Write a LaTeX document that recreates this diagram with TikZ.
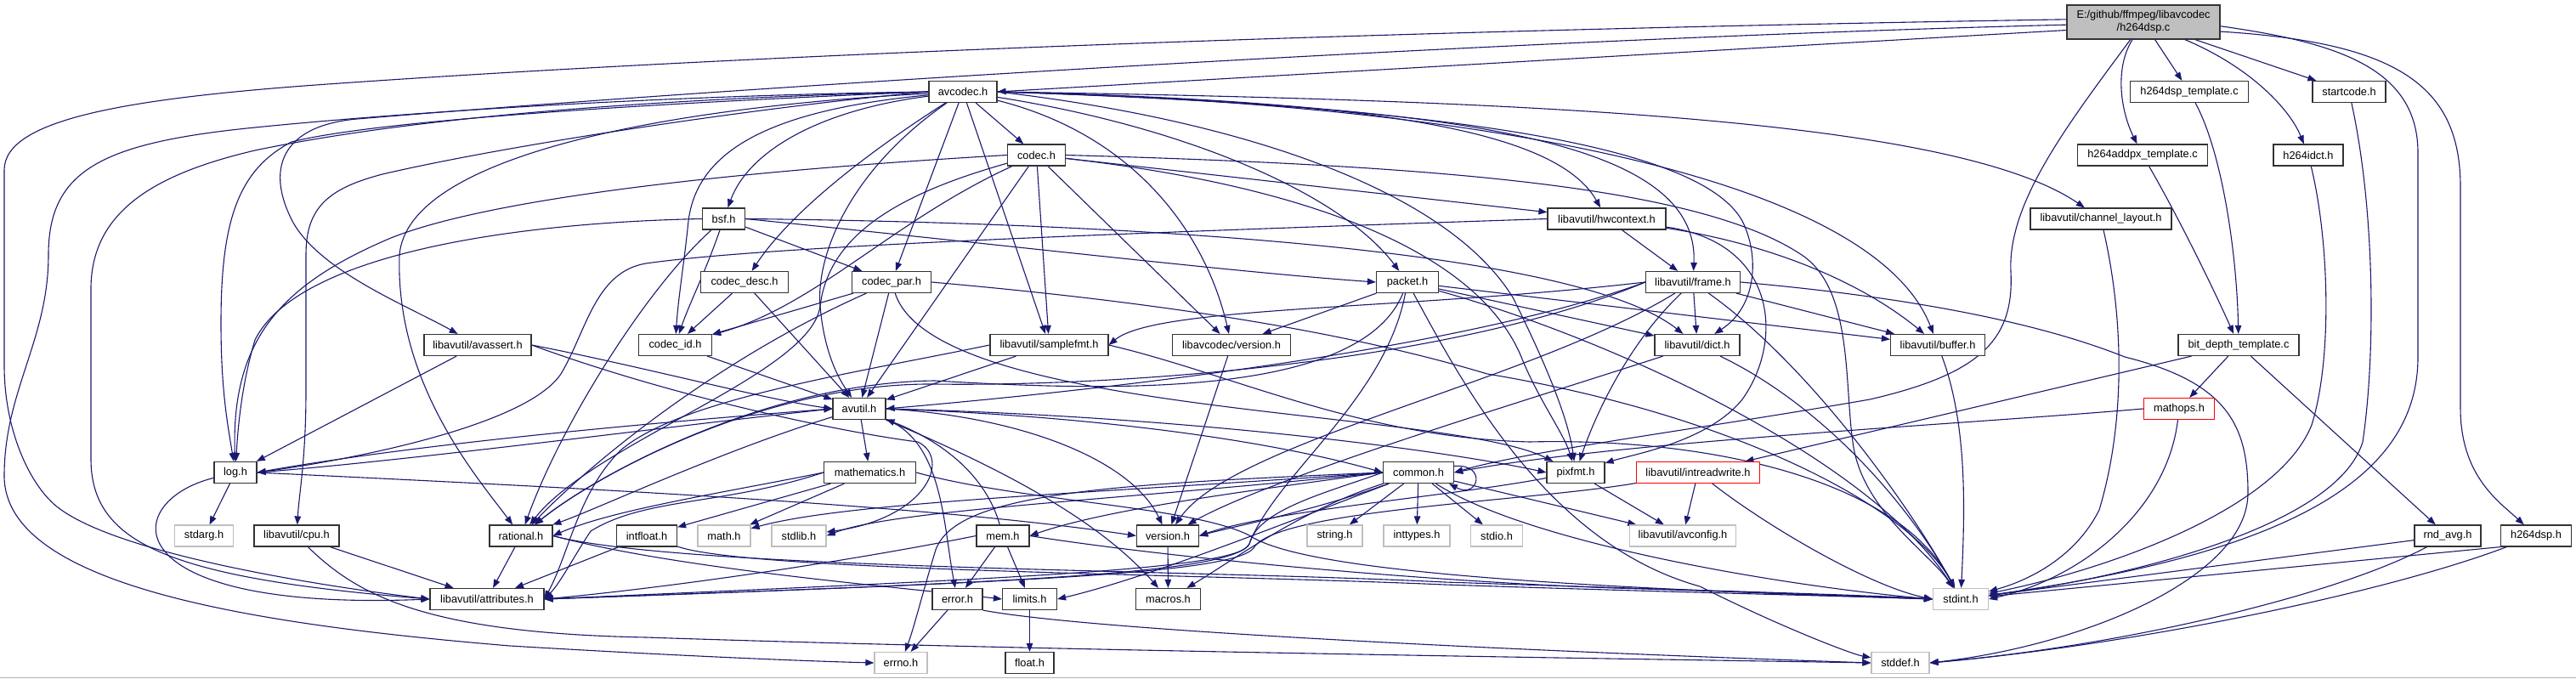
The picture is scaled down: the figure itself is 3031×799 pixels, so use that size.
\documentclass[tikz,border=0pt]{standalone}
\usepackage{fontspec}
\setmainfont{Liberation Sans}
\usetikzlibrary{arrows.meta}
\pgfdeclarelayer{bg}
\pgfsetlayers{bg,main}
\definecolor{edgec}{HTML}{191970}
\definecolor{gborder}{HTML}{BFBFBF}
\definecolor{srcfill}{HTML}{BFBFBF}
\tikzset{
  nd/.style={draw=black!80, line width=1.2pt, fill=white, minimum height=25pt, inner sep=0pt, font=\fontsize{12.8}{15}\selectfont},
  gy/.style={nd, draw=gborder},
  rd/.style={nd, draw=red},
  e/.style={draw=edgec, line width=1.1pt, -{Triangle[length=10pt,width=7.5pt]}}
}
\begin{document}
\begin{tikzpicture}[x=1pt,y=-1pt]
\useasboundingbox (0,0) rectangle (3031,799);
\begin{pgfonlayer}{bg}
\fill[white] (0,0) rectangle (3031,799);
\draw[draw=black!30, line width=1.5pt] (0,797.5) -- (3031,797.5);
\end{pgfonlayer}

% nodes
\node[nd, fill=srcfill, minimum width=180pt, minimum height=40pt, align=center] (src) at (2522,26) {E:/github/ffmpeg/libavcodec\\/h264dsp.c};
\node[nd, minimum width=80pt] (avcodec) at (1133,108) {avcodec.h};
\node[nd, minimum width=139pt] (tmpl) at (2576,108) {h264dsp\_template.c};
\node[nd, minimum width=86pt] (startcode) at (2764,108) {startcode.h};
\node[nd, minimum width=68pt] (codec) at (1219.5,182.5) {codec.h};
\node[nd, minimum width=153pt] (addpx) at (2521,182.5) {h264addpx\_template.c};
\node[nd, minimum width=82pt] (idct) at (2716,182.5) {h264idct.h};
\node[nd, minimum width=50pt] (bsf) at (851.6,257.5) {bsf.h};
\node[nd, minimum width=139pt] (hwctx) at (1890.5,257.5) {libavutil/hwcontext.h};
\node[nd, minimum width=166pt] (chlayout) at (2472,257.5) {libavutil/channel\_layout.h};
\node[nd, minimum width=103pt] (cdesc) at (876,332) {codec\_desc.h};
\node[nd, minimum width=93pt] (cpar) at (1049,332) {codec\_par.h};
\node[nd, minimum width=73pt] (packet) at (1656,332) {packet.h};
\node[nd, minimum width=111pt] (frame) at (1992,332) {libavutil/frame.h};
\node[nd, minimum width=126pt] (avassert) at (562,406) {libavutil/avassert.h};
\node[nd, minimum width=86pt] (codecid) at (794.5,406) {codec\_id.h};
\node[nd, minimum width=139pt] (samplefmt) at (1234.5,406) {libavutil/samplefmt.h};
\node[nd, minimum width=139pt] (lavcver) at (1449,406) {libavcodec/version.h};
\node[nd, minimum width=100pt] (dict) at (1997,406) {libavutil/dict.h};
\node[nd, minimum width=111pt] (buffer) at (2280,406) {libavutil/buffer.h};
\node[nd, minimum width=142pt] (bitdepth) at (2634,406) {bit\_depth\_template.c};
\node[nd, minimum width=62pt] (avutil) at (1011,481) {avutil.h};
\node[rd, minimum width=83pt] (mathops) at (2564,481) {mathops.h};
\node[nd, minimum width=50pt] (log) at (277,556) {log.h};
\node[nd, minimum width=108pt] (mathem) at (1023.5,556) {mathematics.h};
\node[nd, minimum width=83pt] (common) at (1669,556) {common.h};
\node[nd, minimum width=68pt] (pixfmt) at (1854,556) {pixfmt.h};
\node[rd, minimum width=145pt] (intrw) at (1998,556) {libavutil/intreadwrite.h};
\node[gy, minimum width=69pt] (stdarg) at (240,630.5) {stdarg.h};
\node[nd, minimum width=100pt] (cpu) at (349,630.5) {libavutil/cpu.h};
\node[nd, minimum width=74pt] (rational) at (613,630.5) {rational.h};
\node[nd, minimum width=71pt] (intfloat) at (761,630.5) {intfloat.h};
\node[gy, minimum width=62pt] (math) at (852,630.5) {math.h};
\node[gy, minimum width=64pt] (stdlib) at (940,630.5) {stdlib.h};
\node[nd, minimum width=62pt] (mem) at (1180,630.5) {mem.h};
\node[nd, minimum width=73pt] (version) at (1374,630.5) {version.h};
\node[gy, minimum width=65pt] (string) at (1570.5,630.5) {string.h};
\node[gy, minimum width=78pt] (inttypes) at (1667,630.5) {inttypes.h};
\node[gy, minimum width=61pt] (stdio) at (1761,630.5) {stdio.h};
\node[gy, minimum width=125pt] (avconfig) at (1980,630.5) {libavutil/avconfig.h};
\node[nd, minimum width=78pt] (rndavg) at (2880,630.5) {rnd\_avg.h};
\node[nd, minimum width=83pt] (h264dsph) at (2984,630.5) {h264dsp.h};
\node[nd, minimum width=134pt] (attributes) at (573,705) {libavutil/attributes.h};
\node[nd, minimum width=59pt] (error) at (1126.5,705) {error.h};
\node[nd, minimum width=64pt] (limits) at (1211.5,705) {limits.h};
\node[nd, minimum width=76pt] (macros) at (1374.5,705) {macros.h};
\node[gy, minimum width=65pt] (stdint) at (2307,705) {stdint.h};
\node[gy, minimum width=62pt] (errno) at (1060,780) {errno.h};
\node[nd, minimum width=57pt] (float) at (1211.5,780) {float.h};
\node[gy, minimum width=68pt] (stddef) at (2236,780) {stddef.h};

\begin{pgfonlayer}{bg}
% ---- h264dsp.c
\draw[e] (src.186) -- (avcodec.east);
\draw[e] (src.182) .. controls (1800,45) and (900,100) .. (420,140) .. controls (330,148) and (312,200) .. (345,262) .. controls (378,320) and (480,360) .. (avassert);
\draw[e] (src.178) .. controls (1500,38) and (800,70) .. (400,98) .. controls (150,115) and (5,140) .. (5,200) -- (5,430) .. controls (5,500) and (30,560) .. (60,590) .. controls (120,650) and (380,690) .. (attributes.west);
\draw[e] (src) -- (tmpl);
\draw[e] (src) -- (startcode);
\draw[e] (src) .. controls (2650,80) and (2695,130) .. (idct);
\draw[e] (src) .. controls (2488,80) and (2495,130) .. (addpx);
\draw[e] (src) .. controls (2430,150) and (2362,240) .. (2366,320) .. controls (2370,400) and (2330,440) .. (2200,470) .. controls (2000,505) and (1800,530) .. (common.east);
\draw[e] (src.-3) .. controls (2750,50) and (2845,80) .. (2845,180) -- (2845,420) .. controls (2845,560) and (2700,650) .. (stdint);
\draw[e] (src.-7) .. controls (2820,50) and (2895,100) .. (2895,220) -- (2895,480) .. controls (2895,560) and (2940,590) .. (h264dsph);
% ---- avcodec.h
\draw[e] (avcodec.west) .. controls (800,112) and (500,130) .. (300,150) .. controls (120,168) and (57,200) .. (57,300) .. controls (57,400) and (5,460) .. (5,560) .. controls (5,690) and (300,735) .. (600,760) .. controls (800,772) and (950,778) .. (errno.west);
\draw[e] (avcodec.west) .. controls (800,115) and (500,135) .. (300,177) .. controls (180,205) and (107,250) .. (107,340) -- (107,540) .. controls (107,640) and (200,680) .. (attributes.west);
\draw[e] (avcodec.west) .. controls (800,120) and (450,140) .. (343,167) .. controls (280,200) and (260,260) .. (260,380) .. controls (260,460) and (268,500) .. (log);
\draw[e] (avcodec.west) .. controls (900,125) and (600,170) .. (450,205) .. controls (385,222) and (360,245) .. (360,300) -- (360,460) .. controls (360,540) and (352,580) .. (cpu);
\draw[e] (avcodec) .. controls (960,130) and (880,180) .. (bsf);
\draw[e] (avcodec) .. controls (900,130) and (820,180) .. (810,260) .. controls (805,310) and (798,350) .. (codecid);
\draw[e] (avcodec) .. controls (1020,180) and (930,250) .. (cdesc);
\draw[e] (avcodec) -- (cpar);
\draw[e] (avcodec) -- (codec);
\draw[e] (avcodec) -- (samplefmt);
\draw[e] (avcodec) .. controls (1000,200) and (960,300) .. (965,360) .. controls (970,420) and (990,450) .. (avutil);
\draw[e] (avcodec) .. controls (800,125) and (480,180) .. (470,300) .. controls (465,450) and (560,560) .. (rational);
\draw[e] (avcodec.east) .. controls (1700,120) and (2200,200) .. (buffer);
\draw[e] (avcodec.east) .. controls (1700,125) and (2000,170) .. (2050,260) .. controls (2070,300) and (2068,360) .. (dict);
\draw[e] (avcodec.east) .. controls (1700,125) and (2000,160) .. (frame);
\draw[e] (avcodec.east) .. controls (1600,118) and (1830,150) .. (hwctx);
\draw[e] (avcodec.east) .. controls (1450,140) and (1700,220) .. (1780,350) .. controls (1815,420) and (1845,490) .. (pixfmt);
\draw[e] (avcodec) .. controls (1400,150) and (1580,230) .. (packet);
\draw[e] (avcodec.east) .. controls (1800,118) and (2300,140) .. (chlayout);
\draw[e] (avcodec) .. controls (1340,160) and (1420,280) .. (lavcver);
% ---- codec.h
\draw[e] (codec.east) .. controls (1700,195) and (2000,220) .. (2120,300) .. controls (2180,340) and (2170,450) .. (2180,520) .. controls (2190,600) and (2270,650) .. (stdint);
\draw[e] (codec) -- (avutil);
\draw[e] (codec) -- (hwctx);
\draw[e] (codec.west) .. controls (800,205) and (560,240) .. (460,280) .. controls (330,335) and (272,400) .. (log);
\draw[e] (codec) .. controls (1550,220) and (1740,300) .. (1790,420) .. controls (1810,470) and (1840,510) .. (pixfmt);
\draw[e] (codec) .. controls (1050,230) and (975,280) .. (965,360) .. controls (955,440) and (700,520) .. (rational);
\draw[e] (codec) -- (samplefmt);
\draw[e] (codec) .. controls (1050,260) and (960,360) .. (codecid);
\draw[e] (codec) -- (lavcver);
% ---- bsf.h
\draw[e] (bsf.east) .. controls (1300,262) and (1850,290) .. (dict);
\draw[e] (bsf.east) .. controls (1200,290) and (1450,320) .. (packet.west);
\draw[e] (bsf.west) .. controls (600,262) and (350,300) .. (300,400) .. controls (285,450) and (280,500) .. (log);
\draw[e] (bsf) .. controls (760,340) and (660,500) .. (rational);
\draw[e] (bsf) .. controls (830,320) and (810,360) .. (codecid);
\draw[e] (bsf) -- (cpar);
% ---- codec_desc.h
\draw[e] (cdesc) -- (codecid);
\draw[e] (cdesc) -- (avutil);
% ---- codec_par.h
\draw[e] (cpar.east) .. controls (1300,350) and (1550,380) .. (1750,440) .. controls (2050,490) and (2250,600) .. (stdint);
\draw[e] (cpar) -- (avutil);
\draw[e] (cpar) .. controls (850,420) and (700,540) .. (rational);
\draw[e] (cpar) .. controls (1100,490) and (1700,480) .. (pixfmt);
\draw[e] (cpar) -- (codecid);
% ---- packet.h
\draw[e] (packet) .. controls (1720,450) and (1820,640) .. (2000,690) .. controls (2100,740) and (2180,770) .. (stddef);
\draw[e] (packet) .. controls (1900,400) and (2200,540) .. (stdint);
\draw[e] (packet) .. controls (1630,470) and (1500,560) .. (1470,640) .. controls (1450,675) and (1200,685) .. (attributes.east);
\draw[e] (packet) -- (buffer);
\draw[e] (packet) -- (dict);
\draw[e] (packet) .. controls (1600,470) and (1300,460) .. (1100,448) .. controls (900,450) and (700,560) .. (rational);
\draw[e] (packet) -- (lavcver);
% ---- hwcontext.h
\draw[e] (hwctx) .. controls (2100,290) and (2200,340) .. (buffer);
\draw[e] (hwctx) -- (frame);
\draw[e] (hwctx.west) .. controls (1300,275) and (900,290) .. (760,310) .. controls (700,320) and (690,390) .. (660,440) .. controls (620,500) and (420,540) .. (log.east);
\draw[e] (hwctx) .. controls (2090,285) and (2100,400) .. (2050,470) .. controls (2010,520) and (1920,535) .. (pixfmt);
% ---- frame.h
\draw[e] (frame.east) .. controls (2250,350) and (2400,380) .. (2500,420) .. controls (2620,450) and (2645,500) .. (2645,580) .. controls (2645,680) and (2450,760) .. (stddef.east);
\draw[e] (frame) .. controls (2130,430) and (2250,600) .. (stdint);
\draw[e] (frame.west) .. controls (1750,400) and (1400,450) .. (avutil.east);
\draw[e] (frame) -- (buffer);
\draw[e] (frame) -- (dict);
\draw[e] (frame.west) .. controls (1700,430) and (1300,455) .. (1100,452) .. controls (900,450) and (700,560) .. (rational);
\draw[e] (frame.west) .. controls (1650,365) and (1360,360) .. (samplefmt.east);
\draw[e] (frame) .. controls (1920,400) and (1880,480) .. (pixfmt);
\draw[e] (frame) .. controls (1800,450) and (1450,520) .. (version);
% ---- dict.h, buffer.h, lavc version.h
\draw[e] (dict) .. controls (2150,480) and (2250,600) .. (stdint);
\draw[e] (dict) .. controls (1800,470) and (1500,560) .. (version);
\draw[e] (buffer) .. controls (2315,500) and (2312,600) .. (stdint);
\draw[e] (lavcver) -- (version);
% ---- samplefmt.h
\draw[e] (samplefmt.east) .. controls (1450,440) and (1600,515) .. (1800,520) .. controls (2000,515) and (2230,560) .. (stdint);
\draw[e] (samplefmt) -- (avutil);
\draw[e] (samplefmt.west) .. controls (1000,440) and (800,470) .. (730,530) .. controls (680,580) and (670,650) .. (attributes.east);
% ---- avassert.h, codec_id.h
\draw[e] (avassert.east) .. controls (800,470) and (1000,510) .. (1080,520) .. controls (1120,540) and (1090,610) .. (stdlib);
\draw[e] (avassert.east) .. controls (750,430) and (900,470) .. (avutil.west);
\draw[e] (avassert) -- (log);
\draw[e] (codecid) -- (avutil);
% ---- avutil.h
\draw[e] (avutil.east) .. controls (1300,490) and (1500,520) .. (common.west);
\draw[e] (avutil) .. controls (1110,520) and (1110,620) .. (error);
\draw[e] (avutil) .. controls (850,530) and (700,600) .. (rational);
\draw[e] (avutil.east) .. controls (1200,490) and (1330,540) .. (version);
\draw[e] (avutil) .. controls (1200,560) and (1300,620) .. (macros);
\draw[e] (avutil) -- (mathem);
\draw[e] (avutil.west) .. controls (800,500) and (500,540) .. (log.east);
\draw[e] (avutil.east) .. controls (1400,490) and (1700,530) .. (pixfmt.west);
% ---- log.h
\draw[e] (log) -- (stdarg);
\draw[e] (log) .. controls (140,590) and (130,720) .. (attributes.west);
\draw[e] (log.east) .. controls (700,575) and (1100,595) .. (version.west);
\draw[e] (log.east) .. controls (500,520) and (800,495) .. (avutil.west);
% ---- mathematics.h
\draw[e] (mathem.east) .. controls (1200,590) and (1400,595) .. (1470,630) .. controls (1530,670) and (1800,690) .. (stdint.west);
\draw[e] (mathem) -- (math);
\draw[e] (mathem.west) .. controls (850,595) and (760,585) .. (695,625) .. controls (675,655) and (660,685) .. (attributes.east);
\draw[e] (mathem.west) .. controls (850,580) and (720,600) .. (rational.east);
\draw[e] (mathem) -- (intfloat);
% ---- common.h
\draw[e] (common.10) .. controls (1750,545) and (1740,588) .. (common.-20);
\draw[e] (common.west) .. controls (1300,570) and (1120,580) .. (1100,650) .. controls (1085,700) and (1075,740) .. (errno);
\draw[e] (common) -- (inttypes);
\draw[e] (common) .. controls (1500,620) and (1350,680) .. (limits.east);
\draw[e] (common.west) .. controls (1300,580) and (1000,590) .. (math);
\draw[e] (common) .. controls (1800,640) and (2100,690) .. (stdint.west);
\draw[e] (common) -- (stdio);
\draw[e] (common) -- (string);
\draw[e] (common.west) .. controls (1300,590) and (1050,600) .. (stdlib.east);
\draw[e] (common.west) .. controls (1560,580) and (1480,600) .. (1470,640) .. controls (1460,670) and (1200,680) .. (attributes.east);
\draw[e] (common) .. controls (1530,600) and (1450,660) .. (macros);
\draw[e] (common) .. controls (1550,600) and (1450,620) .. (version.east);
\draw[e] (common.west) .. controls (1450,580) and (1300,600) .. (mem.east);
\draw[e] (common) -- (avconfig);
% ---- pixfmt.h, intreadwrite.h
\draw[e] (pixfmt) -- (avconfig);
\draw[e] (pixfmt) .. controls (1700,585) and (1500,600) .. (version.east);
\draw[e] (intrw) -- (avconfig);
\draw[e] (intrw) .. controls (2080,620) and (2200,690) .. (stdint.west);
\draw[e] (intrw) .. controls (1800,590) and (1500,600) .. (1475,645) .. controls (1450,675) and (1200,685) .. (attributes.east);
% ---- rational.h, intfloat.h
\draw[e] (rational.east) .. controls (800,670) and (1400,670) .. (1700,685) .. controls (2000,695) and (2200,700) .. (stdint.west);
\draw[e] (rational.east) .. controls (800,670) and (1050,690) .. (limits.west);
\draw[e] (rational) -- (attributes);
\draw[e] (intfloat) .. controls (880,672) and (1400,675) .. (1700,688) .. controls (2000,698) and (2200,702) .. (stdint.west);
\draw[e] (intfloat) -- (attributes);
% ---- mem.h
\draw[e] (mem) -- (limits);
\draw[e] (mem) -- (error);
\draw[e] (mem.east) .. controls (1400,660) and (1700,685) .. (1900,692) .. controls (2100,698) and (2200,702) .. (stdint.west);
\draw[e] (mem.west) .. controls (1000,660) and (800,690) .. (attributes.east);
\draw[e] (mem) .. controls (1160,560) and (1110,520) .. (avutil);
% ---- version, error, limits, cpu
\draw[e] (version) -- (macros);
\draw[e] (error) -- (errno);
\draw[e] (error.south east) .. controls (1300,745) and (1900,770) .. (stddef.west);
\draw[e] (limits) -- (float);
\draw[e] (cpu) -- (attributes);
\draw[e] (cpu) .. controls (420,700) and (500,745) .. (760,750) .. controls (1200,765) and (1900,775) .. (stddef.west);
% ---- right part
\draw[e] (tmpl) .. controls (2615,180) and (2632,300) .. (bitdepth);
\draw[e] (addpx) .. controls (2560,250) and (2600,330) .. (bitdepth);
\draw[e] (startcode) .. controls (2795,250) and (2795,420) .. (2780,520) .. controls (2750,620) and (2500,680) .. (stdint);
\draw[e] (idct) .. controls (2740,280) and (2745,420) .. (2720,500) .. controls (2680,600) and (2480,670) .. (stdint);
\draw[e] (chlayout) .. controls (2500,380) and (2500,500) .. (2470,600) .. controls (2440,660) and (2380,685) .. (stdint);
\draw[e] (bitdepth) -- (mathops);
\draw[e] (bitdepth) -- (rndavg);
\draw[e] (bitdepth) -- (intrw);
\draw[e] (mathops) .. controls (2550,600) and (2450,680) .. (stdint.east);
\draw[e] (mathops.west) .. controls (2300,500) and (1900,520) .. (common.east);
\draw[e] (h264dsph.south west) -- (stdint);
\draw[e] (h264dsph) .. controls (2800,700) and (2500,760) .. (stddef.east);
\draw[e] (rndavg) -- (stdint);
\draw[e] (rndavg) .. controls (2750,700) and (2500,760) .. (stddef.east);
\end{pgfonlayer}
\end{tikzpicture}
\end{document}
